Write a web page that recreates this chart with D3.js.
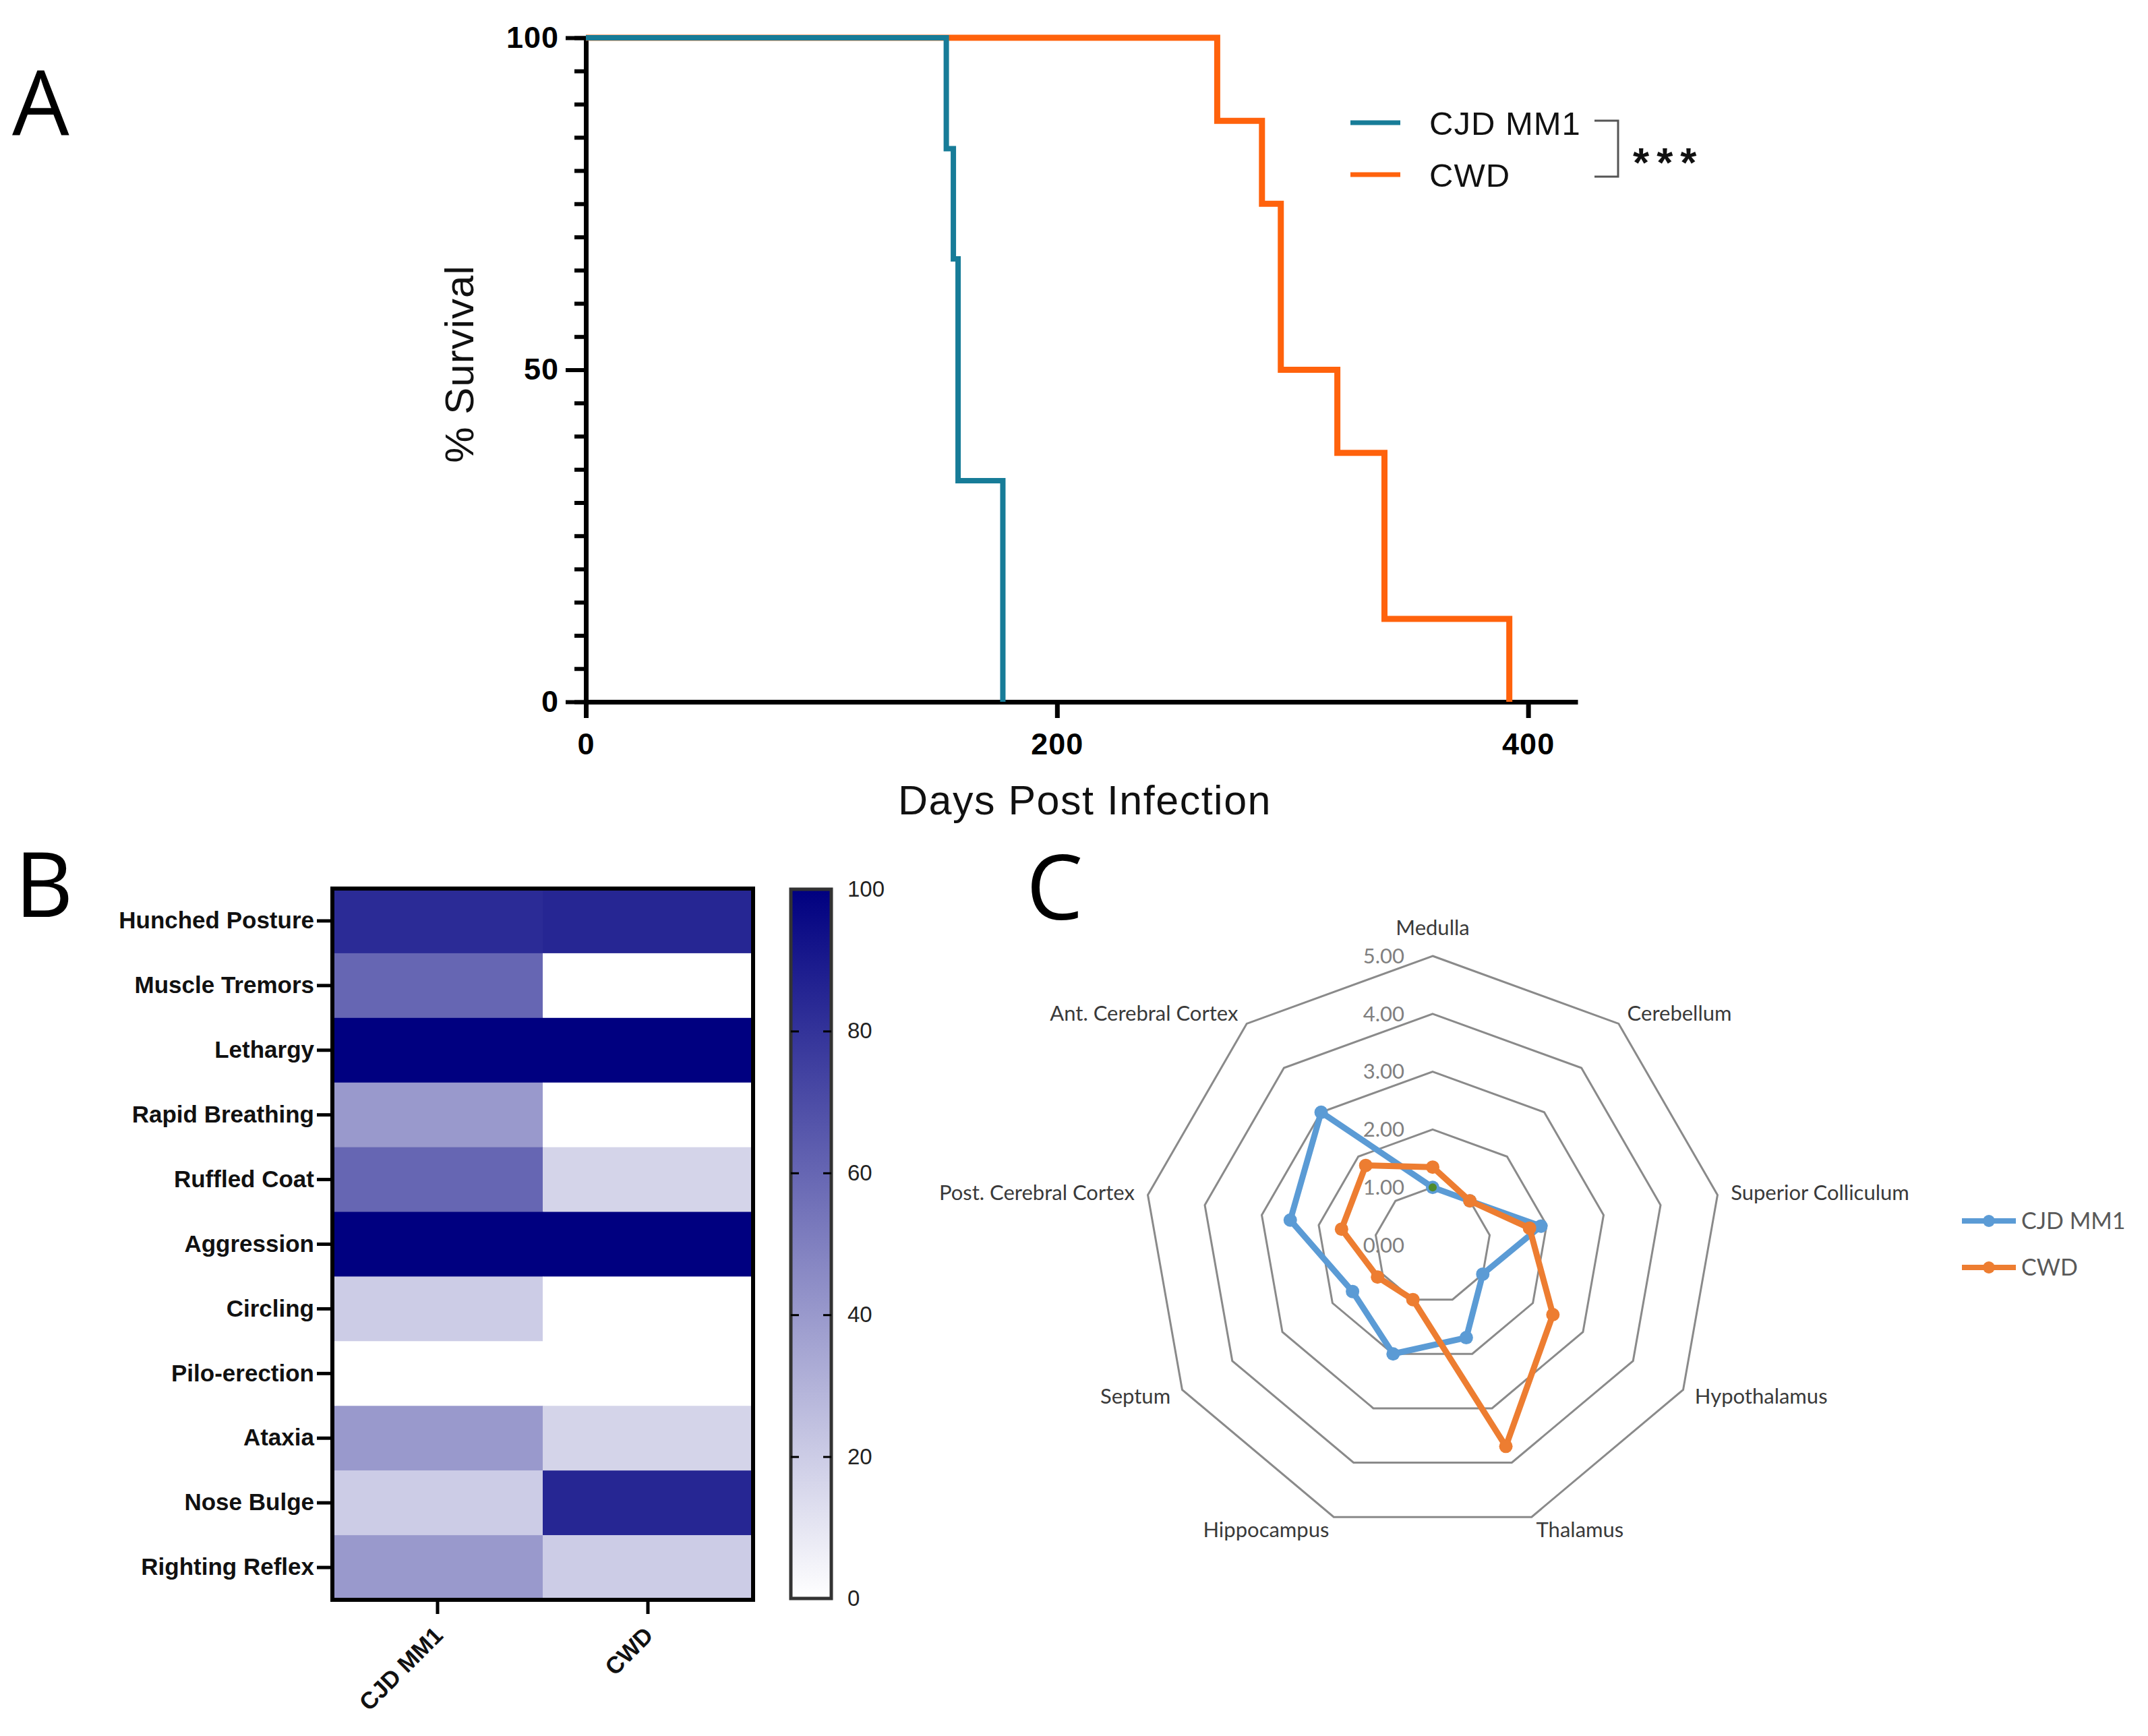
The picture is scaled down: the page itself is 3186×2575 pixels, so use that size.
<!DOCTYPE html>
<html>
<head>
<meta charset="utf-8">
<script src="https://cdn.jsdelivr.net/npm/d3@7"></script>
<style>
  body { margin:0; background:#fff; }
</style>
</head>
<body>
<div id="body"></div>
<script>
//GLOBALS
var width = 3186;
var height = 2575;

//---DATA panel A (Kaplan-Meier steps: day, % survival)
var cjdSurvival = [[0,100],[153,83.3],[156,66.7],[158,33.3],[177,0]];
var cwdSurvival = [[0,100],[268,87.5],[287,75],[295,50],[319,37.5],[339,12.5],[392,0]];
var survivalTicksX = [0,200,400];
var survivalTicksY = [0,50,100];

//---DATA panel B (heatmap, % of animals)
var groups = ["CJD MM1","CWD"];
var signs = ["Hunched Posture","Muscle Tremors","Lethargy","Rapid Breathing","Ruffled Coat",
  "Aggression","Circling","Pilo-erection","Ataxia","Nose Bulge","Righting Reflex"];
var cjdSigns = [83,60,100,40,60,100,20,0,40,20,40];
var cwdSigns = [85,0,100,0,17,100,0,0,17,85,20];
var colorTicks = [0,20,40,60,80,100];

//---DATA panel C (radar)
var regions = ["Medulla","Cerebellum","Superior Colliculum","Hypothalamus","Thalamus",
  "Hippocampus","Septum","Post. Cerebral Cortex","Ant. Cerebral Cortex"];
var cjdScores = [1.0,1.0,1.9,1.0,1.7,2.0,1.6,2.5,3.0];
var cwdScores = [1.35,1.0,1.7,2.4,3.7,1.0,1.1,1.6,1.8];
var extraPoint = [1.0]; //stray series marker at Medulla
var ringValues = [0,1,2,3,4,5];

var teal = "#177c98", orange = "#ff620c";
var xlBlue = "#5b9bd5", xlOrange = "#ed7d31";
var arial = "'Liberation Sans', Arial, sans-serif";
var calibri = "Lato, 'Open Sans', sans-serif";

var svg = d3.select("#body").append("svg")
  .attr("width", width)
  .attr("height", height);

svg.append("rect").attr("width", width).attr("height", height).attr("fill", "#fff");

// panel letters
[["A",18,200],["B",22,1360],["C",1522,1364]].forEach(function(p){
  svg.append("text").attr("x",p[1]).attr("y",p[2]).text(p[0])
    .attr("font-family","'Open Sans', sans-serif").attr("font-size",134).attr("fill","#000");
});

//================ PANEL A
var xA = d3.scaleLinear().domain([0,421]).range([869,2340]);
var yA = d3.scaleLinear().domain([0,100]).range([1041,56]);

var gA = svg.append("g");

// minor y ticks
gA.append("g").attr("transform","translate(869,0)")
  .call(d3.axisLeft(yA).tickValues(d3.range(0,101,5)).tickSize(17).tickFormat(""))
  .call(function(g){ g.select(".domain").remove(); g.selectAll("line").attr("stroke-width",6).attr("stroke","#000"); });

var yAxisA = gA.append("g").attr("transform","translate(869,0)")
  .call(d3.axisLeft(yA).tickValues(survivalTicksY).tickSize(30).tickSizeOuter(0).tickPadding(10));
yAxisA.select(".domain").attr("stroke-width",7).attr("stroke","#000");
yAxisA.selectAll("line").attr("stroke-width",6).attr("stroke","#000");
yAxisA.selectAll("text").attr("font-family",arial).attr("font-weight","bold").attr("font-size",45)
  .attr("letter-spacing",1).attr("fill","#000");

var xAxisA = gA.append("g").attr("transform","translate(0,1041)")
  .call(d3.axisBottom(xA).tickValues(survivalTicksX).tickSize(24).tickSizeOuter(0).tickPadding(22));
xAxisA.select(".domain").attr("stroke-width",7).attr("stroke","#000");
xAxisA.selectAll("line").attr("stroke-width",7).attr("stroke","#000");
xAxisA.selectAll("text").attr("font-family",arial).attr("font-weight","bold").attr("font-size",45)
  .attr("letter-spacing",1).attr("fill","#000");

var stepLine = d3.line().x(function(d){ return xA(d[0]); }).y(function(d){ return yA(d[1]); })
  .curve(d3.curveStepAfter);

gA.append("path").attr("d", stepLine(cwdSurvival)).attr("fill","none")
  .attr("stroke",orange).attr("stroke-width",9);
gA.append("path").attr("d", stepLine(cjdSurvival)).attr("fill","none")
  .attr("stroke",teal).attr("stroke-width",8);

gA.append("text").attr("transform","translate(702,540) rotate(-90)")
  .attr("text-anchor","middle").attr("font-family",arial).attr("font-size",60).attr("fill","#111")
  .attr("letter-spacing",1).text("% Survival");
gA.append("text").attr("x",1609).attr("y",1208)
  .attr("text-anchor","middle").attr("font-family",arial).attr("font-size",61).attr("fill","#111")
  .attr("letter-spacing",1.5).text("Days Post Infection");

// legend
[[groups[0],teal,182],[groups[1],orange,259]].forEach(function(l){
  gA.append("line").attr("x1",2003).attr("x2",2077).attr("y1",l[2]).attr("y2",l[2])
    .attr("stroke",l[1]).attr("stroke-width",7);
  gA.append("text").attr("x",2120).attr("y",l[2]).attr("dy","0.36em")
    .attr("font-family",arial).attr("font-size",49).attr("letter-spacing",1).attr("fill","#111").text(l[0]);
});
gA.append("path").attr("d","M2365,179H2400V262H2365").attr("fill","none")
  .attr("stroke","#555").attr("stroke-width",3);
gA.append("text").attr("x",2422).attr("y",262)
  .attr("font-family",arial).attr("font-weight","bold").attr("font-size",62)
  .attr("letter-spacing",11).attr("fill","#111").text("***");

//================ PANEL B
var xB = d3.scaleBand().domain(groups).range([493,1117]);
var yB = d3.scaleBand().domain(signs).range([1318,2373]);
var color = d3.scaleLinear().domain([0,100]).range(["#ffffff","#000080"]);

var gB = svg.append("g");
var cells = [];
signs.forEach(function(s,i){
  cells.push({sign:s, group:groups[0], v:cjdSigns[i]});
  cells.push({sign:s, group:groups[1], v:cwdSigns[i]});
});
gB.selectAll("rect.cell").data(cells).enter().append("rect")
  .attr("class","cell")
  .attr("x",function(d){ return xB(d.group); })
  .attr("y",function(d){ return yB(d.sign); })
  .attr("width",xB.bandwidth()+0.5)
  .attr("height",yB.bandwidth()+0.5)
  .attr("fill",function(d){ return color(d.v); });
gB.append("rect").attr("x",493).attr("y",1318).attr("width",624).attr("height",1055)
  .attr("fill","none").attr("stroke","#000").attr("stroke-width",6);

var yAxisB = gB.append("g").attr("transform","translate(490,0)")
  .call(d3.axisLeft(yB).tickSize(20).tickPadding(4));
yAxisB.select(".domain").remove();
yAxisB.selectAll("line").attr("stroke-width",5).attr("stroke","#000");
yAxisB.selectAll("text").attr("font-family",arial).attr("font-weight","bold").attr("font-size",35).attr("fill","#111");

var xAxisB = gB.append("g").attr("transform","translate(0,2376)")
  .call(d3.axisBottom(xB).tickSize(18));
xAxisB.select(".domain").remove();
xAxisB.selectAll("line").attr("stroke-width",5).attr("stroke","#000");
xAxisB.selectAll("text")
  .attr("y",0).attr("dy",0)
  .attr("transform","translate(10,52) rotate(-45)")
  .attr("text-anchor","end")
  .attr("font-family",arial).attr("font-weight","bold").attr("font-size",35).attr("fill","#111");

// colour bar
var yC = d3.scaleLinear().domain([0,100]).range([2371,1319]);
var grad = svg.append("defs").append("linearGradient").attr("id","cbar")
  .attr("x1",0).attr("y1",1).attr("x2",0).attr("y2",0);
grad.append("stop").attr("offset","0%").attr("stop-color",color(0));
grad.append("stop").attr("offset","100%").attr("stop-color",color(100));
gB.append("rect").attr("x",1173).attr("y",1319).attr("width",60).attr("height",1052)
  .attr("fill","url(#cbar)").attr("stroke","#333").attr("stroke-width",5);

var inner = colorTicks.slice(1,-1);
gB.append("g").attr("transform","translate(1173,0)")
  .call(d3.axisLeft(yC).tickValues(inner).tickSize(-12).tickFormat(""))
  .call(function(g){ g.select(".domain").remove(); g.selectAll("line").attr("stroke","#000").attr("stroke-width",3); });
var cAxis = gB.append("g").attr("transform","translate(1233,0)")
  .call(d3.axisRight(yC).tickValues(colorTicks).tickSize(0).tickPadding(24));
cAxis.select(".domain").remove();
cAxis.selectAll("text").attr("font-family",arial).attr("font-size",33).attr("fill","#222");
gB.append("g").attr("transform","translate(1233,0)")
  .call(d3.axisRight(yC).tickValues(inner).tickSize(-12).tickFormat(""))
  .call(function(g){ g.select(".domain").remove(); g.selectAll("line").attr("stroke","#000").attr("stroke-width",3); });

//================ PANEL C
var cx = 2125, cy = 1847;
var rScale = d3.scaleLinear().domain([0,5]).range([0,429]);
var step = 2*Math.PI/regions.length;
var gC = svg.append("g").attr("transform","translate("+cx+","+cy+")");

var radial = d3.lineRadial()
  .angle(function(d,i){ return i*step; })
  .radius(function(d){ return rScale(d); })
  .curve(d3.curveLinearClosed);

function polar(v,i){
  var a = i*step, r = rScale(v);
  return [r*Math.sin(a), -r*Math.cos(a)];
}

ringValues.slice(1).forEach(function(rv){
  gC.append("path").attr("d", radial(regions.map(function(){ return rv; })))
    .attr("fill","none").attr("stroke","#8a8a8a").attr("stroke-width",3);
});

gC.selectAll("text.ring").data(ringValues).enter().append("text")
  .attr("class","ring")
  .attr("x",-42).attr("y",function(d){ return -rScale(d); })
  .attr("dy","0.35em").attr("text-anchor","end")
  .attr("font-family",calibri).attr("font-size",31).attr("fill","#808080")
  .text(function(d){ return d3.format(".2f")(d); });

gC.selectAll("text.region").data(regions).enter().append("text")
  .attr("class","region")
  .each(function(d,i){
    var a = i*step, r = rScale(5)+20;
    var x = r*Math.sin(a), y = -r*Math.cos(a);
    var s = Math.sin(a);
    d3.select(this).attr("x",x).attr("y", i===0 ? y-22 : y)
      .attr("text-anchor", s>0.01 ? "start" : (s<-0.01 ? "end" : "middle"));
  })
  .attr("dy","0.35em")
  .attr("font-family",calibri).attr("font-size",31).attr("fill","#3a3a3a")
  .text(function(d){ return d; });

[[cjdScores,xlBlue],[cwdScores,xlOrange]].forEach(function(s){
  gC.append("path").attr("d", radial(s[0])).attr("fill","none")
    .attr("stroke",s[1]).attr("stroke-width",9).attr("stroke-linejoin","round");
  gC.selectAll(null).data(s[0]).enter().append("circle")
    .attr("cx",function(d,i){ return polar(d,i)[0]; })
    .attr("cy",function(d,i){ return polar(d,i)[1]; })
    .attr("r",10).attr("fill",s[1]);
});
gC.selectAll(null).data(extraPoint).enter().append("circle")
  .attr("cx",function(d,i){ return polar(d,i)[0]; })
  .attr("cy",function(d,i){ return polar(d,i)[1]; })
  .attr("r",6).attr("fill","#4e8a2c");

// legend
[[groups[0],xlBlue,1811],[groups[1],xlOrange,1880]].forEach(function(l){
  svg.append("line").attr("x1",2910).attr("x2",2990).attr("y1",l[2]).attr("y2",l[2])
    .attr("stroke",l[1]).attr("stroke-width",8);
  svg.append("circle").attr("cx",2950).attr("cy",l[2]).attr("r",9).attr("fill",l[1]);
  svg.append("text").attr("x",2998).attr("y",l[2]).attr("dy","0.35em")
    .attr("font-family",calibri).attr("font-size",34).attr("fill","#595959").text(l[0]);
});
</script>
</body>
</html>
